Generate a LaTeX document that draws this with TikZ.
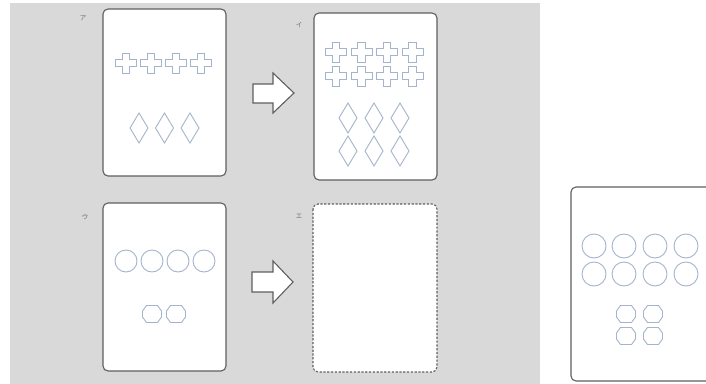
\documentclass[tikz,border=0pt]{standalone}
\usepackage{fontspec}
\newfontfamily\jpfont{Noto Sans CJK JP}
\definecolor{bggray}{RGB}{217,217,217}
\definecolor{shapeblue}{RGB}{165,180,205}
\definecolor{cardedge}{RGB}{95,95,95}
\definecolor{labelgray}{RGB}{110,110,110}
\tikzset{
  cardbox/.style={draw=cardedge, fill=white, line width=1.1pt, rounded corners=5pt},
  dashcard/.style={draw=cardedge, fill=white, line width=1.1pt, rounded corners=5pt, dash pattern=on 2.2pt off 1.6pt},
  symline/.style={draw=shapeblue, line width=0.9pt, line join=miter},
  tag/.style={font=\jpfont\fontsize{6.5}{7}\selectfont, text=labelgray, inner sep=0pt},
  blockarrow/.style={draw=cardedge, fill=white, line width=1.1pt, line join=miter},
  plusshape/.pic={\path[symline] (-3.6,-10)--(3.6,-10)--(3.6,-3.4)--(10.5,-3.4)--(10.5,3.4)--(3.6,3.4)--(3.6,10)--(-3.6,10)--(-3.6,3.4)--(-10.5,3.4)--(-10.5,-3.4)--(-3.6,-3.4)--cycle;},
  diamshape/.pic={\path[symline] (0,-15)--(9,0)--(0,15)--(-9,0)--cycle;},
  ringshape/.pic={\path[symline] (0,0) circle[radius=11];},
  bigring/.pic={\path[symline] (0,0) circle[radius=12];},
  hexshape/.pic={\path[symline] (-9.5,-3)--(-5.5,-8.5)--(5.5,-8.5)--(9.5,-3)--(9.5,3)--(5.5,8.5)--(-5.5,8.5)--(-9.5,3)--cycle;},
}
\begin{document}
\begin{tikzpicture}[x=1pt,y=-1pt]
\useasboundingbox (0,0) rectangle (706,383);
\fill[bggray] (10,3) rectangle (540,390);

% cards
\path[cardbox] (103,9) rectangle (226,176);
\node (A) at (164.5,92.5) {};
\path[cardbox] (314,13) rectangle (437,180);
\node (B) at (375.5,96.5) {};
\path[cardbox] (103,203) rectangle (226,371);
\node (C) at (164.5,287) {};
\path[dashcard] (313,204) rectangle (437,372);
\node (D) at (375,288) {};
\path[cardbox] (571,187) rectangle (716,381);
\node (E) at (643,284) {};

% labels
\node[tag] (la) at (83,18) {ア};
\node[tag] (lb) at (299,25) {イ};
\node[tag] (lc) at (85,217) {ウ};
\node[tag] (ld) at (299,216) {エ};

% arrows
\path[blockarrow] (253,84)--(273,84)--(273,73)--(294,93)--(273,113)--(273,103)--(253,103)--cycle;
\path[blockarrow] (252,272)--(273,272)--(273,261)--(293,282)--(273,303)--(273,292)--(252,292)--cycle;

% card A contents
\foreach \x in {126,151,176,201} \pic at (\x,63) {plusshape};
\foreach \x in {139,164.5,190} \pic at (\x,128) {diamshape};

% card B contents
\foreach \x in {336,361.5,387,412.5} {\pic at (\x,52) {plusshape}; \pic at (\x,76) {plusshape};}
\foreach \x in {348,374,400} {\pic at (\x,118) {diamshape}; \pic at (\x,151) {diamshape};}

% card C contents
\foreach \x in {126,152,178,204} \pic at (\x,261) {ringshape};
\foreach \x in {152,176} \pic at (\x,314) {hexshape};

% right card contents
\foreach \x in {594,624,655,686} {\pic at (\x,246) {bigring}; \pic at (\x,274) {bigring};}
\foreach \x in {626,653} {\pic at (\x,314) {hexshape}; \pic at (\x,336) {hexshape};}
\end{tikzpicture}
\end{document}
